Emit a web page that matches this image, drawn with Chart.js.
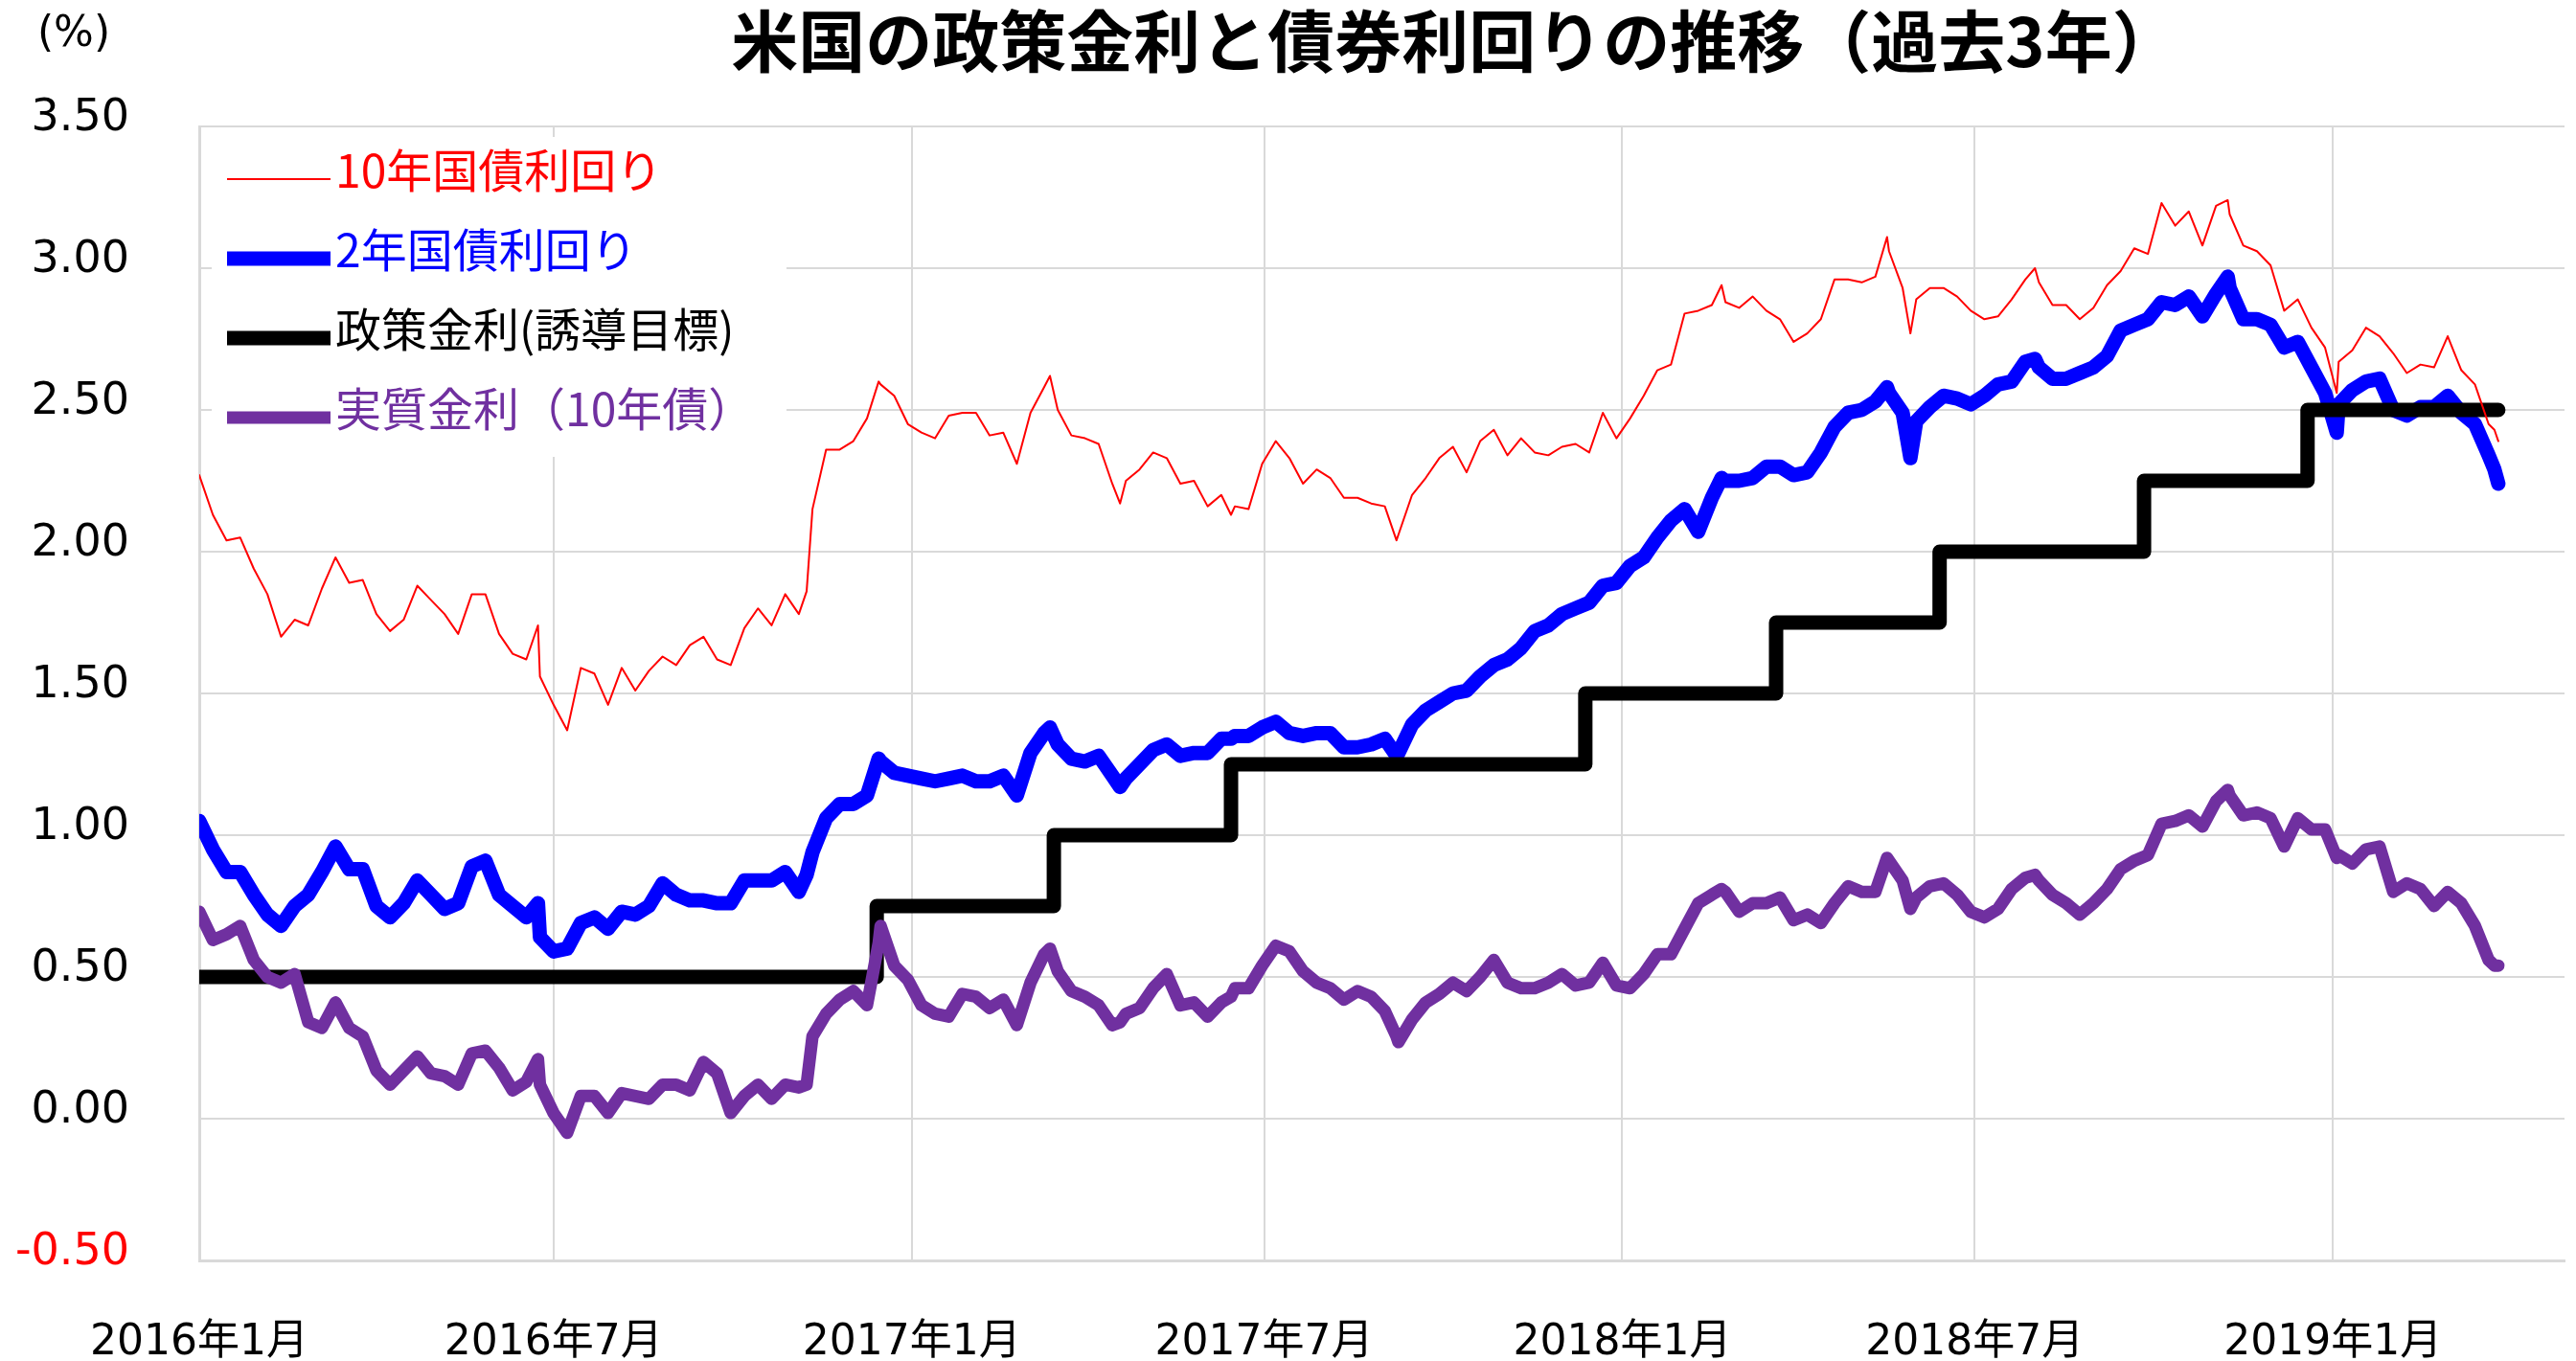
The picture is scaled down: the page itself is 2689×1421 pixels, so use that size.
<!DOCTYPE html>
<html lang="ja">
<head>
<meta charset="utf-8">
<title>米国の政策金利と債券利回りの推移（過去3年）</title>
<script src="https://cdn.jsdelivr.net/npm/chart.js@4.4.1/dist/chart.umd.min.js"></script>
<style>
  html, body { margin: 0; padding: 0; background: #fff; }
  #wrap { width: 2689px; height: 1421px; }
</style>
</head>
<body>
<div id="wrap"><canvas id="rates_chart" width="2689" height="1421"></canvas></div>
<script>
var chart_title = '米国の政策金利と債券利回りの推移（過去3年）';
var unit_label = '(%)';

var obs_dates = [
  '2016-01-01','2016-01-08','2016-01-15','2016-01-22','2016-01-29',
  '2016-02-05','2016-02-12','2016-02-19','2016-02-26',
  '2016-03-04','2016-03-11','2016-03-18','2016-03-25',
  '2016-04-01','2016-04-08','2016-04-15','2016-04-22','2016-04-29',
  '2016-05-06','2016-05-13','2016-05-20','2016-05-27',
  '2016-06-03','2016-06-10','2016-06-17','2016-06-23','2016-06-24',
  '2016-07-01','2016-07-08','2016-07-15','2016-07-22','2016-07-29',
  '2016-08-05','2016-08-12','2016-08-19','2016-08-26',
  '2016-09-02','2016-09-09','2016-09-16','2016-09-23','2016-09-30',
  '2016-10-07','2016-10-14','2016-10-21','2016-10-28',
  '2016-11-04','2016-11-08','2016-11-11','2016-11-18','2016-11-25',
  '2016-12-02','2016-12-09','2016-12-15','2016-12-16','2016-12-23','2016-12-30',
  '2017-01-06','2017-01-13','2017-01-20','2017-01-27',
  '2017-02-03','2017-02-10','2017-02-17','2017-02-24',
  '2017-03-03','2017-03-10','2017-03-13','2017-03-17','2017-03-24','2017-03-31',
  '2017-04-07','2017-04-14','2017-04-18','2017-04-21','2017-04-28',
  '2017-05-05','2017-05-12','2017-05-19','2017-05-26',
  '2017-06-02','2017-06-09','2017-06-14','2017-06-16','2017-06-23','2017-06-30',
  '2017-07-07','2017-07-14','2017-07-21','2017-07-28',
  '2017-08-04','2017-08-11','2017-08-18','2017-08-25',
  '2017-09-01','2017-09-07','2017-09-08','2017-09-15','2017-09-22','2017-09-29',
  '2017-10-06','2017-10-13','2017-10-20','2017-10-27',
  '2017-11-03','2017-11-10','2017-11-17','2017-11-24',
  '2017-12-01','2017-12-08','2017-12-15','2017-12-22','2017-12-29',
  '2018-01-05','2018-01-12','2018-01-19','2018-01-26',
  '2018-02-02','2018-02-09','2018-02-16','2018-02-21','2018-02-23',
  '2018-03-02','2018-03-09','2018-03-16','2018-03-23','2018-03-30',
  '2018-04-06','2018-04-13','2018-04-20','2018-04-27',
  '2018-05-04','2018-05-11','2018-05-17','2018-05-18','2018-05-25','2018-05-29',
  '2018-06-01','2018-06-08','2018-06-15','2018-06-22','2018-06-29',
  '2018-07-06','2018-07-13','2018-07-20','2018-07-27',
  '2018-08-01','2018-08-03','2018-08-10','2018-08-17','2018-08-24','2018-08-31',
  '2018-09-07','2018-09-14','2018-09-21','2018-09-28',
  '2018-10-05','2018-10-12','2018-10-19','2018-10-26',
  '2018-11-02','2018-11-08','2018-11-09','2018-11-16','2018-11-23','2018-11-30',
  '2018-12-07','2018-12-14','2018-12-21','2018-12-28',
  '2019-01-03','2019-01-04','2019-01-11','2019-01-18','2019-01-25',
  '2019-02-01','2019-02-08','2019-02-15','2019-02-22',
  '2019-03-01','2019-03-08','2019-03-15','2019-03-22','2019-03-25','2019-03-27'
];

var yield_10y = [
  2.27, 2.13, 2.04, 2.05, 1.94,
  1.85, 1.70, 1.76, 1.74,
  1.87, 1.98, 1.89, 1.90,
  1.78, 1.72, 1.76, 1.88, 1.83,
  1.78, 1.71, 1.85, 1.85,
  1.71, 1.64, 1.62, 1.74, 1.56,
  1.46, 1.37, 1.59, 1.57, 1.46,
  1.59, 1.51, 1.58, 1.63,
  1.60, 1.67, 1.70, 1.62, 1.60,
  1.73, 1.80, 1.74, 1.85,
  1.78, 1.86, 2.15, 2.36, 2.36,
  2.39, 2.47, 2.60, 2.59, 2.55, 2.45,
  2.42, 2.40, 2.48, 2.49,
  2.49, 2.41, 2.42, 2.31,
  2.49, 2.58, 2.62, 2.50, 2.41, 2.40,
  2.38, 2.24, 2.17, 2.25, 2.29,
  2.35, 2.33, 2.24, 2.25,
  2.16, 2.20, 2.13, 2.16, 2.15, 2.31,
  2.39, 2.33, 2.24, 2.29,
  2.26, 2.19, 2.19, 2.17,
  2.16, 2.04, 2.06, 2.20, 2.26, 2.33,
  2.37, 2.28, 2.39, 2.43,
  2.34, 2.40, 2.35, 2.34,
  2.37, 2.38, 2.35, 2.49, 2.40,
  2.47, 2.55, 2.64, 2.66,
  2.84, 2.85, 2.87, 2.94, 2.88,
  2.86, 2.90, 2.85, 2.82, 2.74,
  2.77, 2.82, 2.96, 2.96,
  2.95, 2.97, 3.11, 3.06, 2.93, 2.77,
  2.89, 2.93, 2.93, 2.90, 2.85,
  2.82, 2.83, 2.89, 2.96,
  3.00, 2.95, 2.87, 2.87, 2.82, 2.86,
  2.94, 2.99, 3.07, 3.05,
  3.23, 3.15, 3.20, 3.08,
  3.22, 3.24, 3.19, 3.08, 3.06, 3.01,
  2.85, 2.89, 2.79, 2.72,
  2.56, 2.67, 2.71, 2.79, 2.76,
  2.70, 2.63, 2.66, 2.65,
  2.76, 2.64, 2.59, 2.45, 2.43, 2.39
];

var yield_2y = [
  1.05, 0.95, 0.87, 0.87, 0.79,
  0.72, 0.68, 0.75, 0.79,
  0.87, 0.96, 0.88, 0.88,
  0.75, 0.71, 0.76, 0.84, 0.79,
  0.74, 0.76, 0.89, 0.91,
  0.79, 0.75, 0.71, 0.76, 0.64,
  0.59, 0.60, 0.69, 0.71, 0.67,
  0.73, 0.72, 0.75, 0.83,
  0.79, 0.77, 0.77, 0.76, 0.76,
  0.84, 0.84, 0.84, 0.87,
  0.80, 0.86, 0.94, 1.06, 1.11,
  1.11, 1.14, 1.27, 1.26, 1.22, 1.21,
  1.20, 1.19, 1.20, 1.21,
  1.19, 1.19, 1.21, 1.14,
  1.29, 1.36, 1.38, 1.32, 1.27, 1.26,
  1.28, 1.21, 1.17, 1.20, 1.25,
  1.30, 1.32, 1.28, 1.29,
  1.29, 1.34, 1.34, 1.35, 1.35, 1.38,
  1.40, 1.36, 1.35, 1.36,
  1.36, 1.31, 1.31, 1.32,
  1.34, 1.28, 1.29, 1.39, 1.44, 1.47,
  1.50, 1.51, 1.56, 1.60,
  1.62, 1.66, 1.72, 1.74,
  1.78, 1.80, 1.82, 1.88, 1.89,
  1.95, 1.98, 2.05, 2.11,
  2.15, 2.07, 2.19, 2.26, 2.25,
  2.25, 2.26, 2.30, 2.30, 2.27,
  2.28, 2.35, 2.44, 2.49,
  2.50, 2.53, 2.58, 2.56, 2.49, 2.33,
  2.46, 2.51, 2.55, 2.54, 2.52,
  2.55, 2.59, 2.60, 2.67,
  2.68, 2.65, 2.61, 2.61, 2.63, 2.65,
  2.69, 2.78, 2.80, 2.82,
  2.88, 2.87, 2.90, 2.83,
  2.91, 2.97, 2.93, 2.82, 2.82, 2.80,
  2.72, 2.74, 2.65, 2.56,
  2.42, 2.52, 2.57, 2.60, 2.61,
  2.50, 2.48, 2.51, 2.51,
  2.55, 2.49, 2.45, 2.34, 2.29, 2.24
];

var real_10y = [
  0.73, 0.63, 0.65, 0.68, 0.56,
  0.50, 0.48, 0.51, 0.34,
  0.32, 0.41, 0.32, 0.29,
  0.17, 0.12, 0.17, 0.22, 0.16,
  0.15, 0.12, 0.23, 0.24,
  0.18, 0.10, 0.13, 0.21, 0.12,
  0.02, -0.05, 0.08, 0.08, 0.02,
  0.09, 0.08, 0.07, 0.12,
  0.12, 0.10, 0.20, 0.16, 0.02,
  0.08, 0.12, 0.07, 0.12,
  0.11, 0.12, 0.29, 0.37, 0.42,
  0.45, 0.40, 0.62, 0.68, 0.54, 0.49,
  0.40, 0.37, 0.36, 0.44,
  0.43, 0.39, 0.42, 0.33,
  0.48, 0.58, 0.60, 0.52, 0.45, 0.43,
  0.40, 0.33, 0.34, 0.37, 0.39,
  0.46, 0.51, 0.40, 0.41,
  0.36, 0.41, 0.43, 0.46, 0.46, 0.54,
  0.61, 0.59, 0.52, 0.48,
  0.46, 0.42, 0.45, 0.43,
  0.38, 0.29, 0.27, 0.35, 0.41, 0.44,
  0.48, 0.45, 0.50, 0.56,
  0.48, 0.46, 0.46, 0.48,
  0.51, 0.47, 0.48, 0.55, 0.47,
  0.46, 0.51, 0.58, 0.58,
  0.67, 0.76, 0.79, 0.81, 0.80,
  0.73, 0.76, 0.76, 0.78, 0.70,
  0.72, 0.69, 0.76, 0.82,
  0.80, 0.80, 0.92, 0.91, 0.84, 0.74,
  0.78, 0.82, 0.83, 0.79, 0.73,
  0.71, 0.74, 0.81, 0.85,
  0.86, 0.84, 0.79, 0.76, 0.72, 0.76,
  0.81, 0.88, 0.91, 0.93,
  1.04, 1.05, 1.07, 1.03,
  1.12, 1.16, 1.14, 1.07, 1.08, 1.06,
  0.96, 1.06, 1.02, 1.02,
  0.92, 0.93, 0.90, 0.95, 0.96,
  0.80, 0.83, 0.81, 0.75,
  0.80, 0.76, 0.68, 0.56, 0.54, 0.54
];

// FF target (upper bound), changes on FOMC dates
var policy_dates = ['2016-01-01','2016-12-14','2017-03-15','2017-06-14','2017-12-13',
                    '2018-03-21','2018-06-13','2018-09-26','2018-12-19','2019-03-27'];
var policy_rate = [0.50, 0.75, 1.00, 1.25, 1.50, 1.75, 2.00, 2.25, 2.50, 2.50];

var tick_dates = ['2016-01-01','2016-07-01','2017-01-01','2017-07-01','2018-01-01','2018-07-01','2019-01-01'];
var tick_labels = ['2016年1月','2016年7月','2017年1月','2017年7月','2018年1月','2018年7月','2019年1月'];
var axis_end_date = '2019-04-30';

var series_names = ['10年国債利回り', '2年国債利回り', '政策金利(誘導目標)', '実質金利（10年債）'];
var series_colors = ['#FF0000', '#0000FF', '#000000', '#7030A0'];

if (yield_10y.length !== obs_dates.length || yield_2y.length !== obs_dates.length || real_10y.length !== obs_dates.length) {
  throw new Error('length mismatch ' + obs_dates.length + ' ' + yield_10y.length + ' ' + yield_2y.length + ' ' + real_10y.length);
}

function day_index(s) {
  var p = s.split('-');
  return (Date.UTC(+p[0], +p[1] - 1, +p[2]) - Date.UTC(2016, 0, 1)) / 86400000;
}
function to_points(date_list, values) {
  return values.map(function (v, i) { return { x: day_index(date_list[i]), y: v }; });
}
var tick_days = tick_dates.map(day_index);

var overlay_plugin = {
  id: 'overlay',
  afterDraw: function (chart) {
    var ctx = chart.ctx;
    ctx.save();
    ctx.fillStyle = '#000';
    ctx.textAlign = 'center';
    ctx.textBaseline = 'middle';
    ctx.font = 'bold 70px "Noto Sans CJK JP"';
    ctx.fillText(chart_title, 1519, 43);
    ctx.font = '44px "DejaVu Sans"';
    ctx.fillText(unit_label, 77, 37);

    // legend box sits inside the plot, top left
    ctx.fillStyle = '#fff';
    ctx.fillRect(221, 143, 600, 334);
    ctx.textAlign = 'left';
    ctx.font = '48px "Noto Sans CJK JP"';
    chart.data.datasets.forEach(function (ds, i) {
      var ly = 187 + i * 83;
      ctx.strokeStyle = ds.borderColor;
      ctx.lineWidth = ds.borderWidth;
      ctx.lineCap = 'butt';
      ctx.beginPath();
      ctx.moveTo(237, ly);
      ctx.lineTo(345, ly);
      ctx.stroke();
      ctx.fillStyle = ds.borderColor;
      ctx.fillText(ds.label, 350, ly - 9);
    });
    ctx.restore();
  }
};

const config = {
  type: 'line',
  data: {
    datasets: [
      { label: series_names[0], data: to_points(obs_dates, yield_10y), borderColor: series_colors[0], borderWidth: 2, order: 0 },
      { label: series_names[1], data: to_points(obs_dates, yield_2y), borderColor: series_colors[1], borderWidth: 15, order: 3 },
      { label: series_names[2], data: to_points(policy_dates, policy_rate), borderColor: series_colors[2], borderWidth: 15, stepped: 'before', order: 2 },
      { label: series_names[3], data: to_points(obs_dates, real_10y), borderColor: series_colors[3], borderWidth: 13, order: 1 }
    ]
  },
  options: {
    responsive: false,
    devicePixelRatio: 1,
    animation: false,
    events: [],
    layout: { padding: { top: 132, right: 12, left: 0, bottom: 0 } },
    elements: {
      point: { radius: 0, hitRadius: 0 },
      line: { tension: 0, fill: false, borderJoinStyle: 'round', borderCapStyle: 'round' }
    },
    scales: {
      x: {
        type: 'linear',
        min: 0,
        max: day_index(axis_end_date),
        afterBuildTicks: function (scale) {
          scale.ticks = tick_days.map(function (d) { return { value: d }; });
        },
        afterFit: function (scale) { scale.height = 105; },
        grid: { color: '#D9D9D9', lineWidth: 2, drawTicks: false },
        border: { color: '#D9D9D9', width: 3 },
        ticks: {
          autoSkip: false,
          maxRotation: 0,
          minRotation: 0,
          padding: 60,
          color: '#000',
          font: { family: '"DejaVu Sans", "Noto Sans CJK JP"', size: 44 },
          callback: function (value) {
            var i = tick_days.indexOf(value);
            return i >= 0 ? tick_labels[i] : '';
          }
        }
      },
      y: {
        min: -0.5,
        max: 3.5,
        afterFit: function (scale) { scale.width = 208; },
        grid: { color: '#D9D9D9', lineWidth: 2, drawTicks: false },
        border: { color: '#D9D9D9', width: 3 },
        ticks: {
          stepSize: 0.5,
          padding: 73,
          labelOffset: -8,
          font: { family: '"DejaVu Sans"', size: 46 },
          color: function (c) { return c.tick && c.tick.value < 0 ? '#FF0000' : '#000'; },
          callback: function (value) { return Number(value).toFixed(2); }
        }
      }
    },
    plugins: {
      legend: { display: false },
      tooltip: { enabled: false }
    }
  },
  plugins: [overlay_plugin]
};

const ratesChart = new Chart(document.getElementById('rates_chart'), config);
</script>
</body>
</html>
